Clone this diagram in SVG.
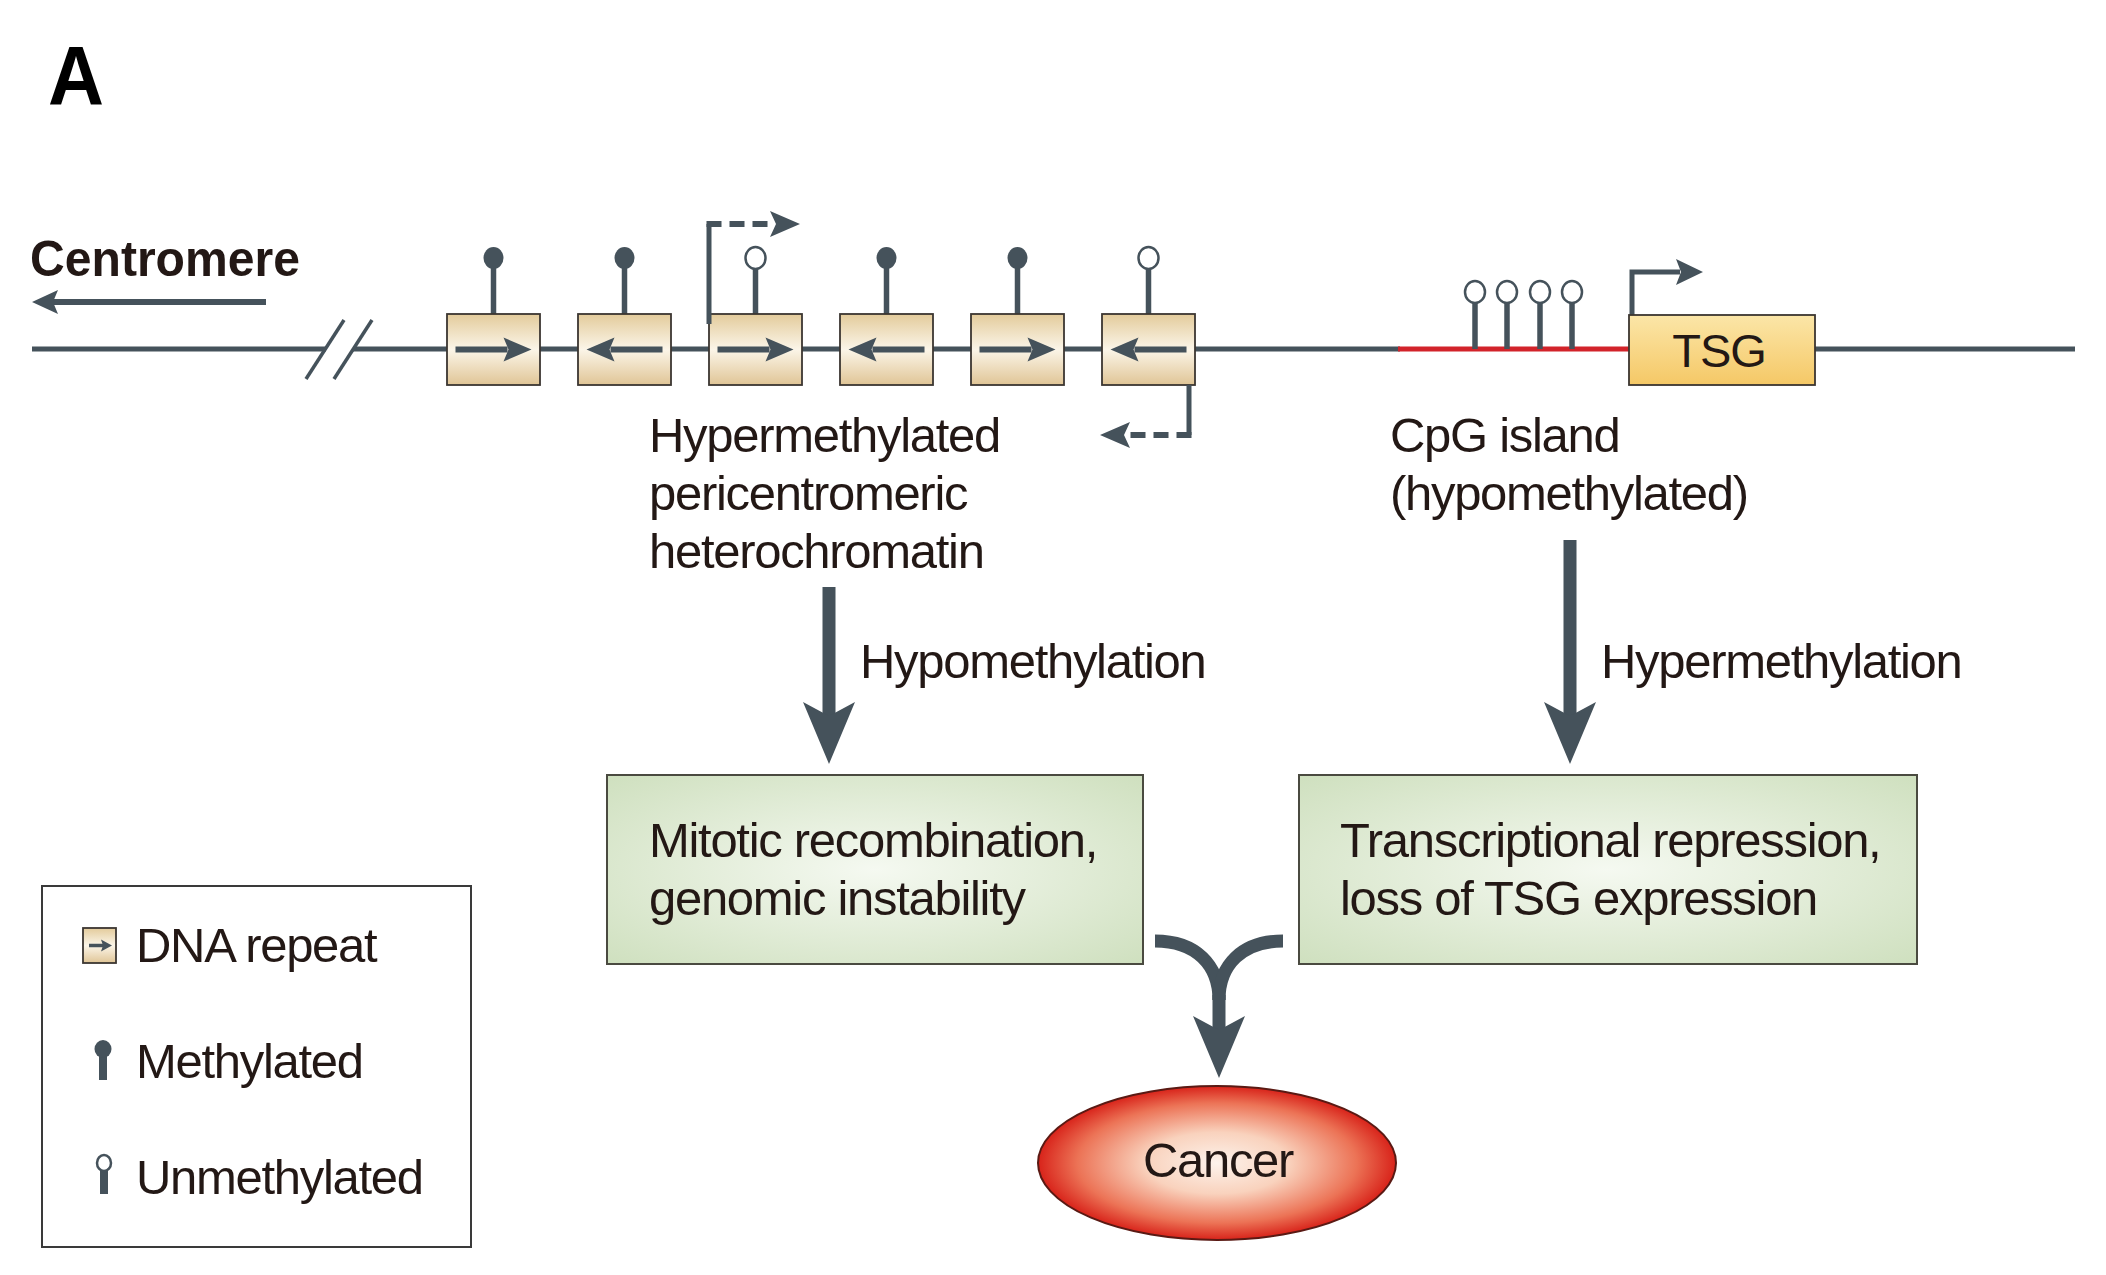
<svg xmlns="http://www.w3.org/2000/svg" width="2106" height="1275" viewBox="0 0 2106 1275">
<defs>
<style>
text{font-family:"Liberation Sans",Arial,Helvetica,sans-serif;fill:#231815}
.lbl{font-size:49px;letter-spacing:-1.3px}
.dna{stroke:#45525b;stroke-width:5;fill:none}
.rep{fill:url(#gRep);stroke:#3b3631;stroke-width:1.8}
.stem{stroke:#45525b;stroke-width:5.5}
.mball{fill:#45525b}
.uball{fill:#fff;stroke:#45525b;stroke-width:2.5}
.dash{stroke:#45525b;stroke-width:6;fill:none;stroke-dasharray:15 8}
.solid{stroke:#45525b;stroke-width:5;fill:none}
.dk{fill:#45525b}
.big{stroke:#45525b;stroke-width:13;fill:none}
.gbox{fill:url(#gGreen);stroke:#4a4a40;stroke-width:2}
</style>
<linearGradient id="gRep" x1="0" y1="0" x2="0" y2="1">
<stop offset="0" stop-color="#e3cb9b"/>
<stop offset="0.5" stop-color="#fbf5e8"/>
<stop offset="1" stop-color="#e0c596"/>
</linearGradient>
<linearGradient id="gTsg" x1="0" y1="0" x2="0" y2="1">
<stop offset="0" stop-color="#fbe6a8"/>
<stop offset="1" stop-color="#f5c866"/>
</linearGradient>
<radialGradient id="gGreen" cx="0.5" cy="0.5" r="0.7">
<stop offset="0" stop-color="#f5f9f1"/>
<stop offset="1" stop-color="#cfe0bf"/>
</radialGradient>
<radialGradient id="gCancer" cx="0.5" cy="0.5" r="0.5">
<stop offset="0" stop-color="#fdf3ec"/>
<stop offset="0.4" stop-color="#f9d2bd"/>
<stop offset="0.78" stop-color="#ec7356"/>
<stop offset="1" stop-color="#d8231a"/>
</radialGradient>
<g id="rarrow">
<line x1="-38" y1="0" x2="14" y2="0" stroke="#45525b" stroke-width="6"/>
<polygon points="38,0 10,-12 15,0 10,12" fill="#45525b"/>
</g>
</defs>
<rect width="2106" height="1275" fill="#fff"/>

<text x="48" y="105" font-size="84" font-weight="bold" textLength="56" lengthAdjust="spacingAndGlyphs" style="fill:#000">A</text>

<g id="centromere">
<text x="30" y="276" font-size="50" font-weight="bold" textLength="270" lengthAdjust="spacingAndGlyphs">Centromere</text>
<line x1="52" y1="302" x2="266" y2="302" stroke="#45525b" stroke-width="6"/>
<polygon points="32,302 58,290 53,302 58,314" class="dk"/>
</g>

<g id="chromosome">
<line x1="32" y1="349" x2="326" y2="349" class="dna"/>
<line x1="353" y1="349" x2="1400" y2="349" class="dna"/>
<line x1="1815" y1="349" x2="2075" y2="349" class="dna"/>
<line x1="306" y1="379" x2="344" y2="320" stroke="#45525b" stroke-width="3.5"/>
<line x1="334" y1="379" x2="372" y2="320" stroke="#45525b" stroke-width="3.5"/>
</g>

<g id="repeat1">
<line x1="493.5" y1="314" x2="493.5" y2="266" class="stem"/>
<ellipse cx="493.5" cy="258" rx="10" ry="11" class="mball"/>
<rect x="447" y="314" width="93" height="71" class="rep"/>
<use href="#rarrow" transform="translate(493.5,349.5)"/>
</g>
<g id="repeat2">
<line x1="624.5" y1="314" x2="624.5" y2="266" class="stem"/>
<ellipse cx="624.5" cy="258" rx="10" ry="11" class="mball"/>
<rect x="578" y="314" width="93" height="71" class="rep"/>
<use href="#rarrow" transform="translate(624.5,349.5) scale(-1,1)"/>
</g>
<g id="repeat3">
<line x1="755.5" y1="314" x2="755.5" y2="269" class="stem"/>
<ellipse cx="755.5" cy="258" rx="10" ry="11" class="uball"/>
<rect x="709" y="314" width="93" height="71" class="rep"/>
<use href="#rarrow" transform="translate(755.5,349.5)"/>
</g>
<g id="repeat4">
<line x1="886.5" y1="314" x2="886.5" y2="266" class="stem"/>
<ellipse cx="886.5" cy="258" rx="10" ry="11" class="mball"/>
<rect x="840" y="314" width="93" height="71" class="rep"/>
<use href="#rarrow" transform="translate(886.5,349.5) scale(-1,1)"/>
</g>
<g id="repeat5">
<line x1="1017.5" y1="314" x2="1017.5" y2="266" class="stem"/>
<ellipse cx="1017.5" cy="258" rx="10" ry="11" class="mball"/>
<rect x="971" y="314" width="93" height="71" class="rep"/>
<use href="#rarrow" transform="translate(1017.5,349.5)"/>
</g>
<g id="repeat6">
<line x1="1148.5" y1="314" x2="1148.5" y2="269" class="stem"/>
<ellipse cx="1148.5" cy="258" rx="10" ry="11" class="uball"/>
<rect x="1102" y="314" width="93" height="71" class="rep"/>
<use href="#rarrow" transform="translate(1148.5,349.5) scale(-1,1)"/>
</g>

<g id="transcript-up">
<line x1="709" y1="324" x2="709" y2="224" class="solid"/>
<line x1="706.5" y1="224" x2="770" y2="224" class="dash"/>
<polygon points="800,224 770,211 776,224 770,237" class="dk"/>
</g>
<g id="transcript-down">
<line x1="1189" y1="385" x2="1189" y2="435" class="solid"/>
<line x1="1191.5" y1="435" x2="1130" y2="435" class="dash"/>
<polygon points="1100,435 1130,422 1124,435 1130,448" class="dk"/>
</g>

<g id="heterochromatin-label">
<text class="lbl" x="649" y="452">Hypermethylated</text>
<text class="lbl" x="649" y="510">pericentromeric</text>
<text class="lbl" x="649" y="568">heterochromatin</text>
</g>

<g id="cpg-island">
<line x1="1398" y1="349" x2="1632" y2="349" stroke="#d2232a" stroke-width="5"/>
<line x1="1475" y1="349" x2="1475" y2="303" class="stem"/>
<line x1="1507" y1="349" x2="1507" y2="303" class="stem"/>
<line x1="1540" y1="349" x2="1540" y2="303" class="stem"/>
<line x1="1572" y1="349" x2="1572" y2="303" class="stem"/>
<ellipse cx="1475" cy="292" rx="10" ry="11" class="uball"/>
<ellipse cx="1507" cy="292" rx="10" ry="11" class="uball"/>
<ellipse cx="1540" cy="292" rx="10" ry="11" class="uball"/>
<ellipse cx="1572" cy="292" rx="10" ry="11" class="uball"/>
<text class="lbl" x="1390" y="452">CpG island</text>
<text class="lbl" x="1390" y="510">(hypomethylated)</text>
</g>

<g id="tsg">
<path d="M1632,316 V272 H1680" class="solid"/>
<polygon points="1703,272 1676,259 1681,272 1676,285" class="dk"/>
<rect x="1629" y="315" width="186" height="70" fill="url(#gTsg)" stroke="#3b3530" stroke-width="1.8"/>
<text x="1719" y="367" font-size="47" text-anchor="middle" letter-spacing="-1">TSG</text>
</g>

<g id="connectors">
<line x1="829" y1="587" x2="829" y2="720" class="big"/>
<polygon points="803,702 829,716 855,702 829,764" class="dk"/>
<text class="lbl" x="860" y="678">Hypomethylation</text>
<line x1="1570" y1="540" x2="1570" y2="720" class="big"/>
<polygon points="1544,702 1570,716 1596,702 1570,764" class="dk"/>
<text class="lbl" x="1601" y="678">Hypermethylation</text>
<path d="M1155,941 C1196,941 1219,965 1219,1000" class="big" stroke-width="14"/>
<path d="M1283,941 C1242,941 1219,965 1219,1000" class="big" stroke-width="14"/>
<line x1="1219" y1="995" x2="1219" y2="1030" class="big"/>
<polygon points="1193,1016 1219,1030 1245,1016 1219,1078" class="dk"/>
</g>

<g id="mitotic">
<rect x="607" y="775" width="536" height="189" class="gbox"/>
<text class="lbl" x="649" y="857">Mitotic recombination,</text>
<text class="lbl" x="649" y="915">genomic instability</text>
</g>

<g id="transcriptional">
<rect x="1299" y="775" width="618" height="189" class="gbox"/>
<text class="lbl" x="1340" y="857">Transcriptional repression,</text>
<text class="lbl" x="1340" y="915">loss of TSG expression</text>
</g>

<g id="cancer">
<ellipse cx="1217" cy="1163" rx="179" ry="77" fill="url(#gCancer)" stroke="#5a1a14" stroke-width="2"/>
<text class="lbl" x="1218" y="1177" text-anchor="middle">Cancer</text>
</g>

<g id="legend">
<rect x="42" y="886" width="429" height="361" fill="#fff" stroke="#3a3a3a" stroke-width="2"/>
<rect x="83" y="928" width="33" height="35" class="rep"/>
<line x1="89" y1="945.5" x2="104" y2="945.5" stroke="#45525b" stroke-width="3.5"/>
<polygon points="112,945.5 101,939.5 103,945.5 101,951.5" class="dk"/>
<text class="lbl" x="136" y="962">DNA repeat</text>
<line x1="103" y1="1052" x2="103" y2="1080" stroke="#45525b" stroke-width="8"/>
<ellipse cx="103" cy="1049" rx="8.5" ry="9" class="mball"/>
<text class="lbl" x="136" y="1078">Methylated</text>
<line x1="104" y1="1170" x2="104" y2="1194" stroke="#45525b" stroke-width="8"/>
<ellipse cx="104" cy="1163" rx="7" ry="8" class="uball"/>
<text class="lbl" x="136" y="1194">Unmethylated</text>
</g>
</svg>
